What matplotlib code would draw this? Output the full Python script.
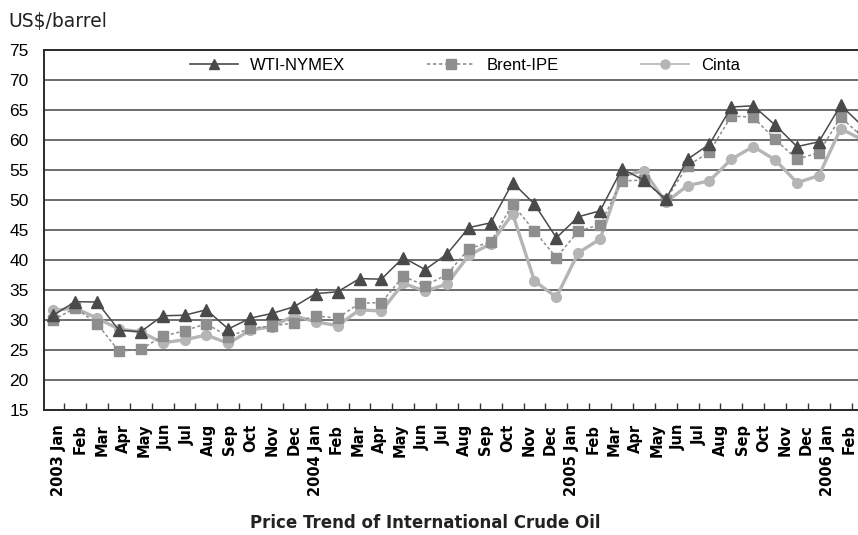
import matplotlib
matplotlib.use("Agg")
from matplotlib import pyplot as plt
from matplotlib.ticker import FixedLocator

plt.rcParams['font.family'] = ['Liberation Sans', 'DejaVu Sans']

# 月份标签 2003 Jan - 2006 Feb
months = ["Jan", "Feb", "Mar", "Apr", "May", "Jun", "Jul", "Aug", "Sep", "Oct", "Nov", "Dec"]
labels = []
for year in [2003, 2004, 2005]:
    for m in months:
        labels.append("{} {}".format(year, m) if m == "Jan" else m)
labels += ["2006 Jan", "Feb"]

wti = [30.8, 33.05, 33.0, 28.3, 28.05, 30.7, 30.8, 31.7, 28.5, 30.3, 31.1, 32.2,
       34.4, 34.7, 36.9, 36.8, 40.4, 38.4, 41.0, 45.4, 46.2, 52.9, 49.3, 43.7,
       47.2, 48.2, 55.2, 53.3, 50.1, 56.8, 59.3, 65.5, 65.7, 62.5, 58.9, 59.7,
       65.8, 62.3]
brent = [30.0, 32.0, 29.4, 24.8, 25.1, 27.3, 28.2, 29.4, 27.2, 28.6, 29.0, 29.5,
         30.7, 30.3, 32.8, 32.9, 37.3, 35.7, 37.6, 41.9, 43.0, 49.3, 44.8, 40.4,
         44.8, 45.9, 53.2, 53.3, 50.0, 55.7, 58.0, 64.0, 63.8, 60.1, 56.8, 57.9,
         63.8, 60.5]
cinta = [31.6, 32.0, 30.3, 28.5, 28.0, 26.2, 26.7, 27.5, 26.1, 28.3, 28.9, 30.7,
         29.7, 29.05, 31.7, 31.5, 36.1, 34.8, 36.0, 40.8, 42.7, 47.7, 36.5, 33.8,
         41.2, 43.5, 54.0, 54.9, 49.6, 52.4, 53.2, 56.8, 58.9, 56.7, 52.9, 54.05,
         61.9, 60.0]

x = list(range(len(labels)))

fig = plt.figure(figsize=(8.58, 5.35), dpi=100)
ax = fig.add_axes([44 / 858, 125 / 535, 814 / 858, 360 / 535])

ax.plot(x, cinta, color="#b5b5b5", lw=2.4, marker="o", markersize=7,
        label="Cinta", zorder=3)
ax.plot(x, brent, color="#8e8e8e", lw=1.1, linestyle=(0, (2, 1.6)), marker="s",
        markersize=7, markeredgecolor="#8e8e8e", label="Brent-IPE", zorder=4)
ax.plot(x, wti, color="#4a4a4a", lw=1.1, marker="^", markersize=9,
        label="WTI-NYMEX", zorder=5)

ax.set_xlim(-0.425, 36.79)
ax.set_ylim(15, 75)
ax.set_yticks(range(15, 80, 5))
ax.tick_params(axis="y", length=0, pad=11, labelsize=12.5)

# 月份标签略微压缩，使最后的 Feb 留在图内；刻度线放在每段之间
ax.set_xticks([0.26 + 0.976 * i for i in x])
ax.set_xticklabels(labels, rotation=90, fontsize=10.5, fontweight="bold",
                   family="DejaVu Sans", va="top")
ax.tick_params(axis="x", which="major", length=0, pad=10)
ax.xaxis.set_minor_locator(FixedLocator([i + 0.5 for i in x]))
ax.tick_params(axis="x", which="minor", direction="in", length=5, width=1,
               color="#333333")

ax.grid(axis="y", color="#555555", lw=1.2)
ax.set_axisbelow(True)
for s in ["top", "left", "bottom"]:
    ax.spines[s].set_color("#2a2a2a")
    ax.spines[s].set_linewidth(1.4)
ax.spines["right"].set_visible(False)

h, l = ax.get_legend_handles_labels()
leg = fig.legend(h[::-1], l[::-1], loc="center left", bbox_to_anchor=(190 / 858, 470 / 535),
                 ncol=3, frameon=False, fontsize=12, handlelength=2.9, handletextpad=0.7,
                 columnspacing=4.9, borderpad=0, borderaxespad=0)
for line in leg.get_lines():
    line.set_linewidth(1.2)
    line.set_markersize(6.5)

fig.text(8 / 858, 513 / 535, "US$/barrel", fontsize=13.5, family="DejaVu Sans",
         va="center", ha="left", color="#222222")
fig.text(425 / 858, 12 / 535, "Price Trend of International Crude Oil", fontsize=12,
         fontweight="bold", family="DejaVu Sans", ha="center", va="center",
         color="#222222")

plt.savefig("out.png", dpi=100)
